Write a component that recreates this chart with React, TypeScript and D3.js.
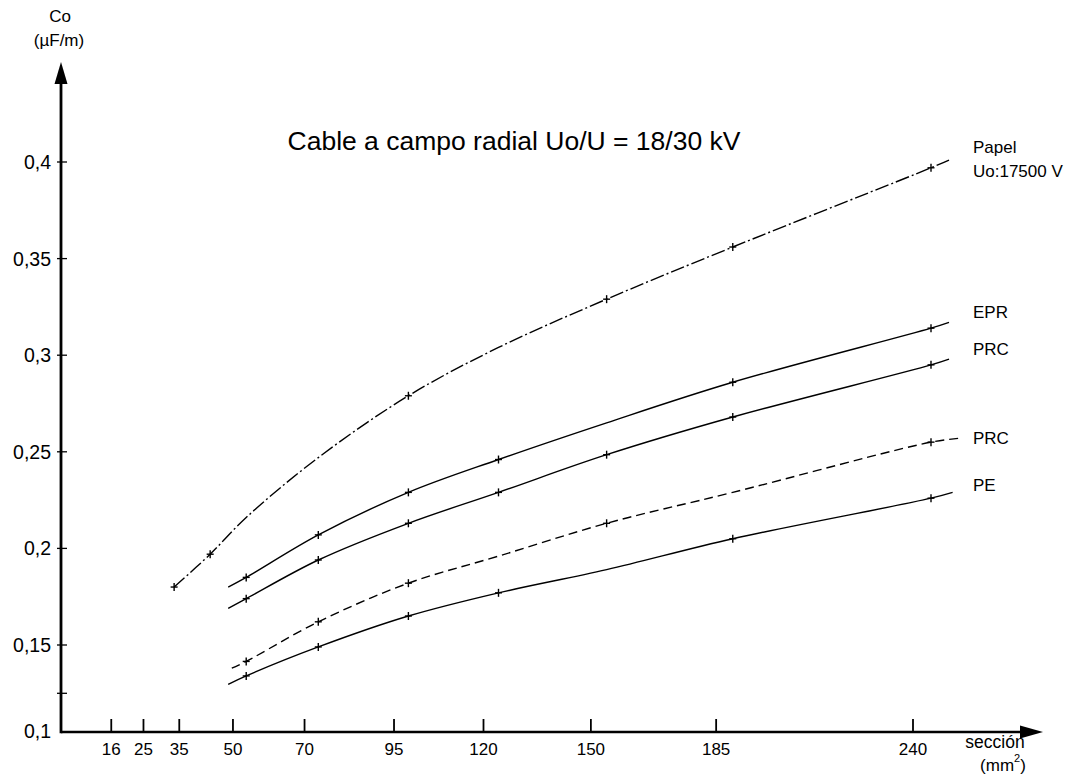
import React from "react";
import * as d3 from "d3";

// ---- data ----
const sectionTicks = [16, 25, 35, 50, 70, 95, 120, 150, 185, 240];
const capTicks = [0.125, 0.15, 0.2, 0.25, 0.3, 0.35, 0.4];
const capTickLabels = ["", "0,15", "0,2", "0,25", "0,3", "0,35", "0,4"];
const originLabel = "0,1";

const papelS = [30, 40, 50, 70, 95, 120, 150, 185, 240, 245];
const papelC = [0.18, 0.197, 0.216, 0.247, 0.279, 0.304, 0.329, 0.356, 0.397, 0.401];
const papelMarks = [30, 40, 95, 150, 185, 240];

const eprS = [45, 50, 70, 95, 120, 150, 185, 240, 245];
const eprC = [0.18, 0.185, 0.207, 0.229, 0.246, 0.265, 0.286, 0.314, 0.317];
const eprMarks = [50, 70, 95, 120, 185, 240];

const prcS = [45, 50, 70, 95, 120, 150, 185, 240, 245];
const prcC = [0.169, 0.174, 0.194, 0.213, 0.229, 0.2485, 0.268, 0.295, 0.298];
const prcMarks = [50, 70, 95, 120, 150, 185, 240];

const prc2S = [46, 50, 70, 95, 120, 150, 185, 240, 248];
const prc2C = [0.138, 0.1415, 0.162, 0.182, 0.196, 0.213, 0.229, 0.255, 0.257];
const prc2Marks = [50, 70, 95, 150, 240];

const peS = [45, 50, 70, 95, 120, 150, 185, 240, 246];
const peC = [0.1296, 0.134, 0.149, 0.165, 0.177, 0.189, 0.205, 0.226, 0.229];
const peMarks = [50, 70, 95, 120, 185, 240];

const FONT = "'Liberation Sans', Arial, Helvetica, sans-serif";

export default function App() {
  const W = 1079, H = 778;
  const axisX = 61, axisY = 732;
  // scale of the drawn curves
  const xData = d3.scaleLinear().domain([0, 240]).range([66, 931]);
  // scale of the printed section ticks
  const xTick = d3.scaleLinear().domain([0, 240]).range([54, 913]);
  const y = d3.scaleLinear().domain([0.15, 0.4]).range([645, 162]);

  const line = d3
    .line<[number, number]>()
    .x((d) => xData(d[0]))
    .y((d) => y(d[1]))
    .curve(d3.curveCatmullRom.alpha(0.5));

  const series = [
    { s: papelS, c: papelC, m: papelMarks, dash: "14,3,2,3" },
    { s: eprS, c: eprC, m: eprMarks, dash: "none" },
    { s: prcS, c: prcC, m: prcMarks, dash: "none" },
    { s: prc2S, c: prc2C, m: prc2Marks, dash: "9,5" },
    { s: peS, c: peC, m: peMarks, dash: "none" },
  ];

  const valueAt = (s: number[], c: number[], x: number) => c[s.indexOf(x)];

  return (
    <svg
      width={W}
      height={H}
      style={{ position: "absolute", left: 0, top: 0, background: "#fff" }}
      fontFamily={FONT}
    >
      <rect x={0} y={0} width={W} height={H} fill="#fff" />
      {/* axes */}
      <line x1={axisX} y1={axisY} x2={1022} y2={axisY} stroke="#000" strokeWidth={2.6} />
      <path d={`M1043,${axisY} L1020,${axisY - 6.5} L1020,${axisY + 6.5} Z`} fill="#000" />
      <line x1={axisX} y1={axisY + 1.3} x2={axisX} y2={80} stroke="#000" strokeWidth={2.8} />
      <path d={`M${axisX},62 L${axisX - 6.5},84 L${axisX + 6.5},84 Z`} fill="#000" />

      {/* y ticks */}
      {capTicks.map((v, i) => (
        <g key={"yt" + i}>
          <line x1={axisX - 4} x2={axisX + 6} y1={y(v)} y2={y(v)} stroke="#000" strokeWidth={1.3} />
          {capTickLabels[i] && (
            <text x={51} y={y(v)} textAnchor="end" dominantBaseline="central" fontSize={19.5}>
              {capTickLabels[i]}
            </text>
          )}
        </g>
      ))}
      <text x={51} y={axisY - 1} textAnchor="end" dominantBaseline="central" fontSize={19.5}>
        {originLabel}
      </text>

      {/* x ticks */}
      {sectionTicks.map((t) => (
        <g key={"xt" + t}>
          <line x1={xTick(t)} x2={xTick(t)} y1={axisY} y2={axisY - 13} stroke="#000" strokeWidth={1.8} />
          <text x={xTick(t)} y={749} textAnchor="middle" dominantBaseline="central" fontSize={17}>
            {t}
          </text>
        </g>
      ))}

      {/* axis titles */}
      <text x={60} y={16} textAnchor="middle" dominantBaseline="central" fontSize={17}>Co</text>
      <text x={59} y={40} textAnchor="middle" dominantBaseline="central" fontSize={17}>(µF/m)</text>
      <text x={995} y={742} textAnchor="middle" dominantBaseline="central" fontSize={17.5}>sección</text>
      <text x={1003} y={765} textAnchor="middle" dominantBaseline="central" fontSize={17}>
        (mm<tspan fontSize={11} dy={-7}>2</tspan><tspan dy={7}>)</tspan>
      </text>

      {/* title */}
      <text x={514} y={141} textAnchor="middle" dominantBaseline="central" fontSize={26.5}>
        Cable a campo radial Uo/U = 18/30 kV
      </text>

      {/* curves */}
      {series.map((sr, i) => (
        <g key={"s" + i}>
          <path
            d={line(sr.s.map((x, j) => [x, sr.c[j]] as [number, number])) || ""}
            fill="none"
            stroke="#000"
            strokeWidth={1.4}
            strokeDasharray={sr.dash}
          />
          {sr.m.map((mx) => {
            const px = xData(mx), py = y(valueAt(sr.s, sr.c, mx));
            return (
              <g key={"m" + mx} stroke="#000" strokeWidth={1.4}>
                <line x1={px - 3.5} x2={px + 3.5} y1={py} y2={py} />
                <line x1={px} x2={px} y1={py - 4} y2={py + 4} />
              </g>
            );
          })}
        </g>
      ))}

      {/* series labels */}
      <g fontSize={17}>
        <text x={973} y={147} dominantBaseline="central">Papel</text>
        <text x={973} y={171} dominantBaseline="central">Uo:17500 V</text>
        <text x={973} y={312} dominantBaseline="central">EPR</text>
        <text x={973} y={349} dominantBaseline="central">PRC</text>
        <text x={973} y={438} dominantBaseline="central">PRC</text>
        <text x={973} y={485} dominantBaseline="central">PE</text>
      </g>
    </svg>
  );
}
